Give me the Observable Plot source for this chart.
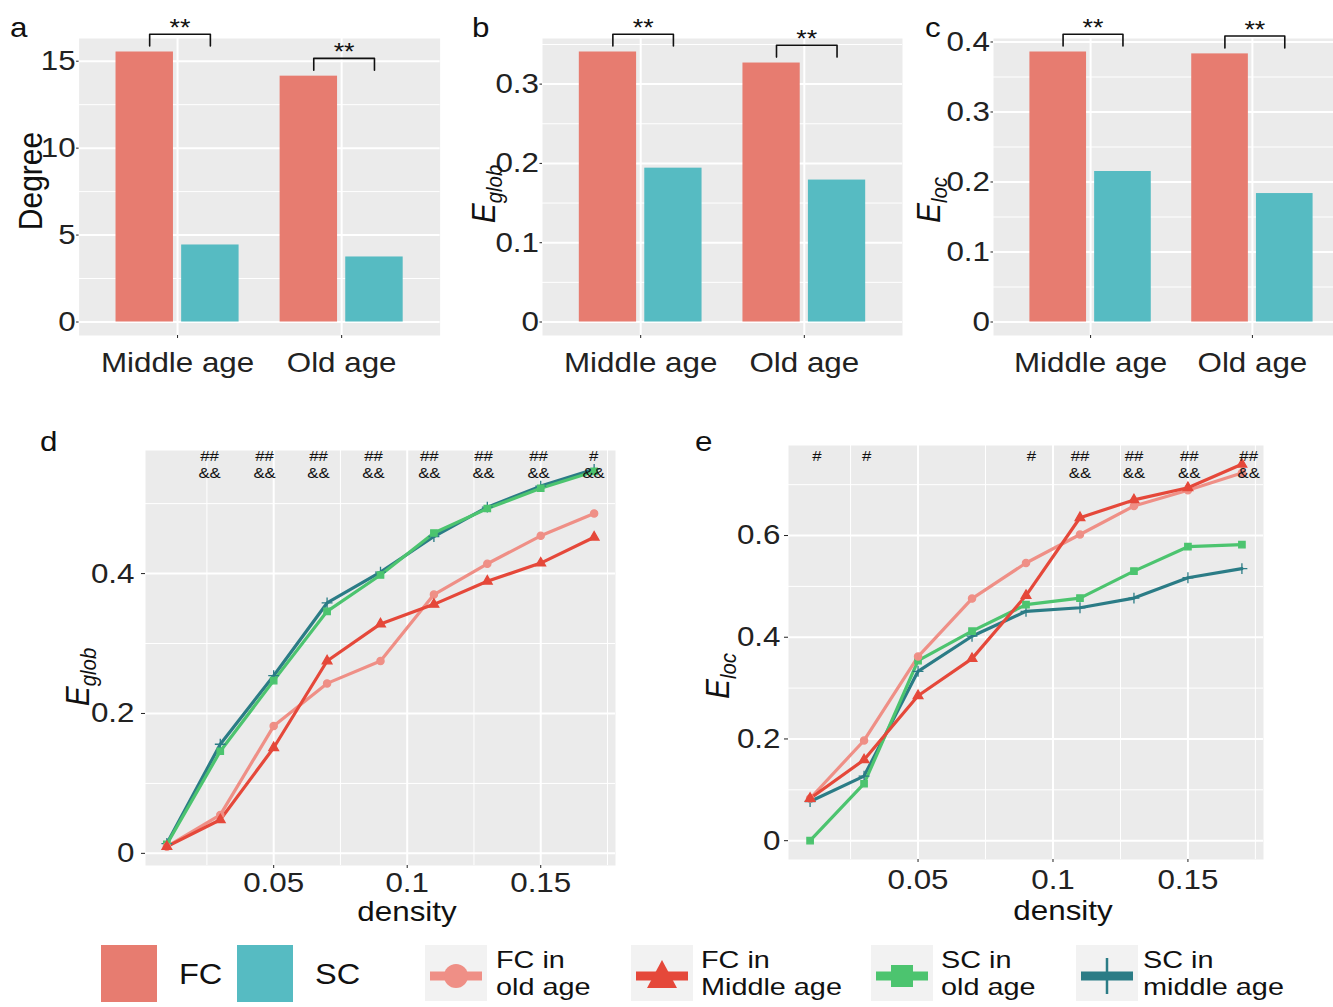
<!DOCTYPE html>
<html>
<head>
<meta charset="utf-8">
<script src="https://cdn.jsdelivr.net/npm/d3@7"></script>
<script src="https://cdn.jsdelivr.net/npm/@observablehq/plot@0.6"></script>
<style>
html, body { margin: 0; padding: 0; background: #fff; overflow: hidden; }
#root { position: relative; width: 1333px; height: 1007px; overflow: hidden; background: #fff;
  font-family: "Liberation Sans", Arial, Helvetica, sans-serif; color: #111; }
.abs { position: absolute; }
.txt { position: absolute; white-space: nowrap; line-height: 1; }
.txt sub { font-size: 0.68em; vertical-align: -0.28em; line-height: 0; }
</style>
</head>
<body>
<div id="root"></div>
<script>
// ---------------- data ----------------
const ageGroups = ["Middle age", "Old age"];
const networks = ["FC", "SC"];
const sigLabels = ["**", "**"];

const degreeFC = [15.53, 14.14];
const degreeSC = [4.43, 3.74];
const eglobFC = [0.3405, 0.3266];
const eglobSC = [0.194, 0.179];
const elocFC = [0.3857, 0.3830];
const elocSC = [0.215, 0.1835];

const degreeTicks = [0, 5, 10, 15];
const degreeMinor = [2.5, 7.5, 12.5];
const eglobBarTicks = [0, 0.1, 0.2, 0.3];
const eglobBarMinor = [0.05, 0.15, 0.25, 0.35];
const elocBarTicks = [0, 0.1, 0.2, 0.3, 0.4];
const elocBarMinor = [0.05, 0.15, 0.25, 0.35];

const seriesNames = ["FC in old age", "FC in Middle age", "SC in old age", "SC in middle age"];
const density = [0.01, 0.03, 0.05, 0.07, 0.09, 0.11, 0.13, 0.15, 0.17];
const densityTicks = [0.05, 0.1, 0.15];
const densityMinor = [0.025, 0.075, 0.125, 0.175];

const eglobFCold = [0.0096, 0.055, 0.182, 0.243, 0.275, 0.370, 0.414, 0.454, 0.486];
const eglobFCmid = [0.0096, 0.048, 0.151, 0.275, 0.328, 0.356, 0.389, 0.415, 0.452];
const eglobSCold = [0.013, 0.146, 0.247, 0.346, 0.398, 0.458, 0.493, 0.522, 0.546];
const eglobSCmid = [0.014, 0.156, 0.254, 0.358, 0.402, 0.453, 0.495, 0.525, 0.549];

const elocFCold = [0.083, 0.197, 0.362, 0.476, 0.546, 0.602, 0.658, 0.689, 0.723];
const elocFCmid = [0.083, 0.159, 0.285, 0.358, 0.482, 0.635, 0.670, 0.694, 0.740];
const elocSCold = [0.000, 0.112, 0.354, 0.412, 0.464, 0.477, 0.530, 0.578, 0.582];
const elocSCmid = [0.077, 0.127, 0.333, 0.402, 0.451, 0.458, 0.477, 0.517, 0.535];

const eglobLineTicks = [0, 0.2, 0.4];
const eglobLineMinor = [0.1, 0.3, 0.5];
const elocLineTicks = [0, 0.2, 0.4, 0.6];
const elocLineMinor = [0.1, 0.3, 0.5, 0.7];

const eglobSigDensity = [0.026, 0.0466, 0.0668, 0.0874, 0.1083, 0.1286, 0.1492, 0.1698];
const eglobSigTop = ["##", "##", "##", "##", "##", "##", "##", "#"];
const eglobSigBottom = ["&&", "&&", "&&", "&&", "&&", "&&", "&&", "&&"];
const elocSigDensity = [0.0125, 0.031, 0.092, 0.110, 0.130, 0.1505, 0.1725];
const elocSigTop = ["#", "#", "#", "##", "##", "##", "##"];
const elocSigBottom = ["", "", "", "&&", "&&", "&&", "&&"];

// ---------------- style ----------------
const FC_COL = "#E77C70";
const SC_COL = "#56BBC2";
const PANEL_BG = "#EBEBEB";
const seriesColors = ["#EF8F86", "#E5483A", "#4CC46F", "#2B7C86"];
const seriesSymbols = ["circle", "triangle", "square", "plus"];
const drawOrder = [3, 2, 0, 1];
const SX = 1.12;
const FONT = '"Liberation Sans", Arial, Helvetica, sans-serif';
const baseStyle = { fontFamily: FONT, fontSize: "28px", background: "transparent", overflow: "visible", maxWidth: "none" };
const fmt = d => String(+(+d).toFixed(4));

const root = document.getElementById("root");

function place(node, left, top) {
  const d = document.createElement("div");
  d.className = "abs";
  d.style.left = left + "px";
  d.style.top = top + "px";
  d.appendChild(node);
  root.appendChild(d);
  return d;
}
function stretch(svg) {
  svg.querySelectorAll("text").forEach(t => {
    const tr = t.getAttribute("transform");
    t.setAttribute("transform", (tr ? tr + " " : "") + `scale(${SX},1)`);
  });
}
function hText(html, x, baseline, size, align = "start", lineHeight = null, sx = SX) {
  const d = document.createElement("div");
  d.className = "txt";
  d.innerHTML = html;
  d.style.fontSize = size + "px";
  d.style.left = x + "px";
  if (lineHeight) {
    d.style.lineHeight = lineHeight + "px";
    d.style.top = (baseline - ((lineHeight - 1.117 * size) / 2 + 0.905 * size)) + "px";
  } else {
    d.style.top = (baseline - 0.8465 * size) + "px";
  }
  if (align === "middle") {
    d.style.transform = `translateX(-50%) scaleX(${sx})`;
    d.style.transformOrigin = "50% 50%";
  } else {
    d.style.transform = `scaleX(${sx})`;
    d.style.transformOrigin = "0 50%";
  }
  root.appendChild(d);
  return d;
}
function rText(html, cx, cy, size) {
  const d = document.createElement("div");
  d.className = "txt";
  d.innerHTML = html;
  d.style.fontSize = size + "px";
  d.style.left = cx + "px";
  d.style.top = cy + "px";
  d.style.transform = `translate(-50%,-50%) scaleX(${SX}) rotate(-90deg)`;
  d.style.transformOrigin = "50% 50%";
  root.appendChild(d);
  return d;
}

// ---------------- bar panels ----------------
function barPanel(o) {
  const rows = ageGroups.flatMap((g, i) => [
    { group: g, net: networks[0], pos: i + 1, value: o.fc[i] },
    { group: g, net: networks[1], pos: i + 1, value: o.sc[i] }
  ]);
  const ymax = d3.max(rows, d => d.value);
  const dodge = { FC: -0.2, SC: 0.2 };
  const half = 0.175;
  const gap = 0.022 * ymax, leg = 0.044 * ymax;
  const br = ageGroups.map((g, i) => ({ group: g, pos: i + 1, base: o.fc[i], label: sigLabels[i] }));
  const brPts = br.flatMap(b => [
    { group: b.group, x: b.pos - 0.17, y: b.base + gap },
    { group: b.group, x: b.pos - 0.17, y: b.base + gap + leg },
    { group: b.group, x: b.pos + 0.2, y: b.base + gap + leg },
    { group: b.group, x: b.pos + 0.2, y: b.base + gap }
  ]);
  const positions = ageGroups.map((g, i) => i + 1);
  const svg = Plot.plot({
    width: o.width, height: o.height,
    marginLeft: o.ml, marginRight: o.mr, marginTop: o.mt, marginBottom: o.mb,
    style: baseStyle,
    x: { domain: [0.4, 2.6], axis: null },
    y: { domain: [-0.05 * ymax, 1.05 * ymax], axis: null },
    color: { domain: networks, range: [FC_COL, SC_COL] },
    marks: [
      Plot.frame({ fill: PANEL_BG, stroke: "none" }),
      Plot.ruleY(o.minor, { stroke: "#fff", strokeWidth: 1 }),
      Plot.ruleY(o.ticks, { stroke: "#fff", strokeWidth: 2 }),
      Plot.ruleX(positions, { stroke: "#fff", strokeWidth: 2 }),
      Plot.rect(rows, {
        x1: d => d.pos + dodge[d.net] - half,
        x2: d => d.pos + dodge[d.net] + half,
        y1: d => 0, y2: "value", fill: "net"
      }),
      Plot.line(brPts, { x: "x", y: "y", z: "group", stroke: "#111", strokeWidth: 1.6 }),
      Plot.text(br, { x: d => d.pos + 0.015, y: d => d.base + gap + leg, text: "label", dy: -6, fontSize: 24, fill: "#111" }),
      Plot.axisY(o.ticks, { tickSize: 2.5, tickPadding: 1, fontSize: 28, tickFormat: fmt, color: "#222", label: null }),
      Plot.axisX(positions, { tickSize: 3, tickPadding: 14, fontSize: 28, tickFormat: d => ageGroups[d - 1], color: "#222", label: null })
    ]
  });
  stretch(svg);
  place(svg, o.left, o.top);
}

barPanel({ left: 0, top: 0, width: 445, height: 400, ml: 78.6, mr: 5.4, mt: 38, mb: 65,
  fc: degreeFC, sc: degreeSC, ticks: degreeTicks, minor: degreeMinor });
barPanel({ left: 450, top: 0, width: 460, height: 400, ml: 92, mr: 8, mt: 38, mb: 65,
  fc: eglobFC, sc: eglobSC, ticks: eglobBarTicks, minor: eglobBarMinor });
barPanel({ left: 905, top: 0, width: 450, height: 400, ml: 88, mr: 6, mt: 38, mb: 65,
  fc: elocFC, sc: elocSC, ticks: elocBarTicks, minor: elocBarMinor });

// ---------------- line panels ----------------
function linePanel(o) {
  const rows = drawOrder.flatMap(k => density.map((x, i) => ({ series: seriesNames[k], density: x, value: o.values[k][i] })));
  const [x0, x1] = d3.extent(density);
  const [y0, y1] = d3.extent(rows, d => d.value);
  const sig = o.sigX.map((x, i) => ({ x, top: o.sigTop[i], bottom: o.sigBottom[i] }));
  const svg = Plot.plot({
    width: o.width, height: o.height,
    marginLeft: o.ml, marginRight: o.mr, marginTop: o.mt, marginBottom: o.mb,
    style: baseStyle,
    x: { domain: [x0 - 0.05 * (x1 - x0), x1 + 0.05 * (x1 - x0)], axis: null },
    y: { domain: [y0 - 0.05 * (y1 - y0), y1 + 0.05 * (y1 - y0)], axis: null },
    color: { domain: seriesNames, range: seriesColors },
    symbol: { domain: seriesNames, range: seriesSymbols },
    marks: [
      Plot.frame({ fill: PANEL_BG, stroke: "none" }),
      Plot.ruleY(o.yMinor.filter(v => v < y1 + 0.05 * (y1 - y0)), { stroke: "#fff", strokeWidth: 1 }),
      Plot.ruleY(o.yTicks, { stroke: "#fff", strokeWidth: 2 }),
      Plot.ruleX(densityMinor, { stroke: "#fff", strokeWidth: 1 }),
      Plot.ruleX(densityTicks, { stroke: "#fff", strokeWidth: 2 }),
      Plot.line(rows, { x: "density", y: "value", z: "series", stroke: "series", strokeWidth: 3.2, strokeLinejoin: "round" }),
      Plot.dot(rows, { x: "density", y: "value", symbol: "series", fill: "series", stroke: "series", strokeWidth: 1.3, r: 3.6 }),
      Plot.text(sig, { x: "x", text: "top", frameAnchor: "top", dy: o.topDy, fontSize: 15, fill: "#111" }),
      Plot.text(sig, { x: "x", text: "bottom", frameAnchor: "top", dy: o.botDy, fontSize: 15, fill: "#111" }),
      Plot.axisY(o.yTicks, { tickSize: 4, tickPadding: o.yPad, fontSize: 28, tickFormat: fmt, color: "#222", label: null }),
      Plot.axisX(densityTicks, { tickSize: 3, tickPadding: o.xPad, fontSize: 28, tickFormat: fmt, color: "#222", label: null })
    ]
  });
  stretch(svg);
  place(svg, o.left, o.top);
}

linePanel({ left: 0, top: 420, width: 650, height: 520, ml: 145, mr: 35, mt: 30, mb: 75,
  values: [eglobFCold, eglobFCmid, eglobSCold, eglobSCmid],
  yTicks: eglobLineTicks, yMinor: eglobLineMinor,
  sigX: eglobSigDensity, sigTop: eglobSigTop, sigBottom: eglobSigBottom,
  topDy: 0, botDy: 17, yPad: 7, xPad: 4 });
linePanel({ left: 660, top: 420, width: 673, height: 520, ml: 128, mr: 70, mt: 25, mb: 81,
  values: [elocFCold, elocFCmid, elocSCold, elocSCmid],
  yTicks: elocLineTicks, yMinor: elocLineMinor,
  sigX: elocSigDensity, sigTop: elocSigTop, sigBottom: elocSigBottom,
  topDy: 5, botDy: 22, yPad: 4, xPad: 7 });

// ---------------- titles, panel letters ----------------
hText("a", 10, 38, 28);
hText("b", 472, 38, 28);
hText("c", 925, 38, 28);
hText("d", 40, 452, 28);
hText("e", 695, 452, 28);

rText("Degree", 31, 181, 30);
rText("<i>E</i><sub><i>glob</i></sub>", 484, 194, 30);
rText("<i>E</i><sub><i>loc</i></sub>", 929, 200, 30);
rText("<i>E</i><sub><i>glob</i></sub>", 78, 677, 30);
rText("<i>E</i><sub><i>loc</i></sub>", 718, 676, 30);

hText("density", 407, 922, 28, "middle");
hText("density", 1063, 921, 28, "middle");

// ---------------- legend ----------------
const barLegend = [
  { name: networks[0], color: FC_COL, left: 101, textLeft: 179 },
  { name: networks[1], color: SC_COL, left: 237, textLeft: 315 }
];
barLegend.forEach(b => {
  const s = document.createElement("div");
  s.className = "abs";
  Object.assign(s.style, { left: b.left + "px", top: "945px", width: "56px", height: "57px", background: b.color });
  root.appendChild(s);
  hText(b.name, b.textLeft, 985, 29);
});

function keySVG(color, shape) {
  const w = 62, h = 56, cy = 31, cx = 31;
  let m = "";
  if (shape === "circle") m = `<circle cx="${cx}" cy="${cy}" r="12" fill="${color}"/>`;
  if (shape === "triangle") m = `<path d="M${cx},${cy - 16} L${cx + 15},${cy + 12} L${cx - 15},${cy + 12} Z" fill="${color}"/>`;
  if (shape === "square") m = `<rect x="${cx - 11}" y="${cy - 11}" width="22" height="22" fill="${color}"/>`;
  if (shape === "plus") m = `<line x1="${cx}" x2="${cx}" y1="${cy - 18}" y2="${cy + 18}" stroke="${color}" stroke-width="2.5"/>`;
  return `<svg width="${w}" height="${h}" xmlns="http://www.w3.org/2000/svg">
    <rect width="${w}" height="${h}" fill="#F2F2F2"/>
    <line x1="5" x2="${w - 5}" y1="${cy}" y2="${cy}" stroke="${color}" stroke-width="9"/>
    ${m}</svg>`;
}
const keyLefts = [425, 631, 871, 1076];
const keyTextLefts = [496, 701, 941, 1143];
seriesNames.forEach((name, i) => {
  const k = document.createElement("div");
  k.className = "abs";
  k.style.left = keyLefts[i] + "px";
  k.style.top = "945px";
  k.innerHTML = keySVG(seriesColors[i], seriesSymbols[i]);
  root.appendChild(k);
  const parts = name.split(" in ");
  hText(parts[0] + " in<br>" + parts[1], keyTextLefts[i], 968, 24, "start", 27.5, 1.2);
});
</script>
</body>
</html>
